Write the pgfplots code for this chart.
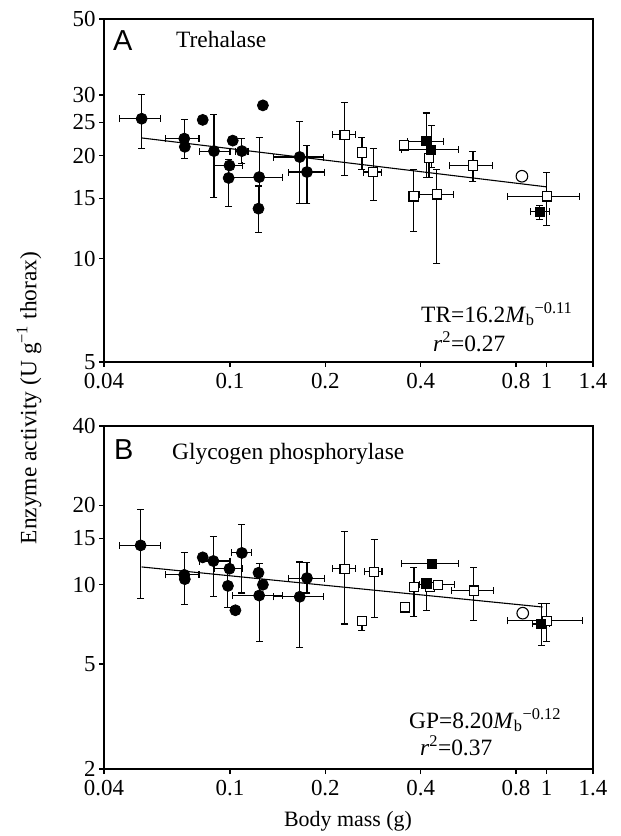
\documentclass[border=0pt]{standalone}
\usepackage{pgfplots}
\usepackage{pgfplotstable}
\pgfplotsset{compat=1.18}
\usepackage{fontspec}
\setmainfont{Liberation Serif}
\newfontfamily\panelsans{Liberation Sans}

% x y xlo xhi ylo yhi
\pgfplotstableread{
x y xlo xhi ylo yhi
0.0526 25.6 0.0447 0.0603 20.9 30.2
0.0717 22.4 0.0627 0.0798 19.6 25.4
0.072 21.2 0.072 0.072 21.2 21.2
0.082 25.4 0.082 0.082 25.4 25.4
0.089 20.6 0.080 0.100 15.1 26.3
0.102 22.1 0.102 0.102 22.1 22.1
0.109 20.6 0.104 0.114 19.0 22.4
0.0996 18.7 0.0896 0.1094 18.7 18.7
0.099 17.2 0.099 0.099 14.2 19.5
0.1236 17.3 0.1021 0.146 14.0 22.6
0.123 14.0 0.123 0.123 11.9 16.3
0.127 28.0 0.127 0.127 28.0 28.0
0.166 19.8 0.137 0.197 14.5 25.1
0.175 17.9 0.153 0.199 14.5 21.4
}\Acirc
\pgfplotstableread{
x y xlo xhi ylo yhi
0.230 23.0 0.211 0.249 17.5 28.6
0.261 20.4 0.255 0.270 18.2 22.5
0.283 17.9 0.264 0.301 14.8 21.0
0.354 21.4 0.345 0.360 21.4 21.4
0.425 19.7 0.425 0.425 17.3 20.8
0.380 15.2 0.380 0.380 12.0 18.2
0.450 15.4 0.397 0.508 9.7 18.2
0.585 18.7 0.494 0.674 16.8 20.5
1.0 15.2 0.75 1.27 12.5 17.8
}\Aosq
\pgfplotstableread{
x y xlo xhi ylo yhi
0.416 22.0 0.364 0.471 17.3 26.6
0.432 20.8 0.348 0.526 18.5 24.4
0.95 13.7 0.89 1.02 13.0 14.3
}\Afsq
\pgfplotstableread{
x y xlo xhi ylo yhi
0.0522 14.1 0.0447 0.0603 8.9 19.3
0.0717 10.9 0.0627 0.0798 8.4 13.2
0.072 10.5 0.072 0.072 10.5 10.5
0.082 12.7 0.082 0.082 12.7 12.7
0.0886 12.3 0.080 0.100 9.0 15.2
0.0996 11.5 0.0896 0.1094 11.5 11.5
0.0985 9.9 0.0985 0.0985 8.2 11.5
0.109 13.2 0.101 0.117 9.3 16.9
0.104 8.0 0.104 0.104 8.0 8.0
0.123 11.1 0.123 0.123 11.1 11.1
0.127 10.0 0.127 0.127 10.0 10.0
0.1236 9.1 0.102 0.146 6.1 12.0
0.166 9.0 0.137 0.197 5.8 12.2
0.175 10.6 0.153 0.199 9.3 12.1
}\Bcirc
\pgfplotstableread{
x y xlo xhi ylo yhi
0.230 11.5 0.211 0.249 7.1 15.9
0.261 7.3 0.261 0.261 6.7 7.6
0.285 11.2 0.265 0.302 7.5 14.8
0.356 8.2 0.356 0.356 8.2 8.2
0.381 9.8 0.381 0.381 7.6 11.6
0.429 9.8 0.429 0.429 9.8 9.8
0.453 10.0 0.397 0.510 10.0 10.0
0.588 9.5 0.499 0.680 7.3 11.6
1.0 7.3 0.75 1.30 6.1 8.5
}\Bosq
\pgfplotstableread{
x y xlo xhi ylo yhi
0.435 12.0 0.349 0.526 12.0 12.0
0.417 10.1 0.417 0.417 8.0 10.1
0.96 7.1 0.90 1.02 5.9 8.5
}\Bfsq

\pgfplotsset{
  panel/.style={
    scale only axis, width=489bp, height=343bp,
    xmin=0.04, xmax=1.4,
    xtick={0.04,0.1,0.2,0.4,0.8,1,1.4},
    xticklabels={0.04,0.1,0.2,0.4,0.8,1,1.4},
    xminorticks=false, yminorticks=false,
    tick align=outside, xtick pos=left, ytick pos=left,
    major tick length=5bp,
    axis line style={line width=1.2bp},
    tick style={line width=1.2bp, black},
    ticklabel style={font=\fontsize{23}{23}\selectfont},
    xticklabel style={yshift=-2.5bp},
  },
  eb/.style={
    error bars/x dir=both, error bars/y dir=both,
    error bars/x explicit, error bars/y explicit,
    error bars/error bar style={line width=1.1bp, black},
    error bars/error mark options={rotate=90, line width=1.1bp, mark size=3.5bp, black},
  },
  fc/.style={only marks, mark=*, mark size=5.5bp, mark options={fill=black, draw=black, line width=0.8bp}},
  os/.style={only marks, mark=square*, mark size=4.6bp, mark options={fill=white, draw=black, line width=1.1bp}},
  fs/.style={only marks, mark=square*, mark size=4.6bp, mark options={fill=black, draw=black, line width=1.1bp}},
  oc/.style={only marks, mark=o, mark size=5.8bp, mark options={draw=black, line width=1.1bp}},
}

\begin{document}
\begin{tikzpicture}
\begin{loglogaxis}[panel, at={(104bp,-362bp)}, anchor=south west,
  ymin=5, ymax=50,
  ytick={5,10,15,20,25,30,50}, yticklabels={5,10,15,20,25,30,50}]
  \addplot[black, line width=1.1bp] coordinates {(0.0526,22.5) (1.0,16.2)};
  \addplot[os, eb] table[x=x, y=y,
    x error plus expr=\thisrow{xhi}-\thisrow{x},
    x error minus expr=\thisrow{x}-\thisrow{xlo},
    y error plus expr=\thisrow{yhi}-\thisrow{y},
    y error minus expr=\thisrow{y}-\thisrow{ylo}] {\Aosq};
  \addplot[fs, eb] table[x=x, y=y,
    x error plus expr=\thisrow{xhi}-\thisrow{x},
    x error minus expr=\thisrow{x}-\thisrow{xlo},
    y error plus expr=\thisrow{yhi}-\thisrow{y},
    y error minus expr=\thisrow{y}-\thisrow{ylo}] {\Afsq};
  \addplot[fc, eb] table[x=x, y=y,
    x error plus expr=\thisrow{xhi}-\thisrow{x},
    x error minus expr=\thisrow{x}-\thisrow{xlo},
    y error plus expr=\thisrow{yhi}-\thisrow{y},
    y error minus expr=\thisrow{y}-\thisrow{ylo}] {\Acirc};
  \addplot[oc] coordinates {(0.835,17.4)};
\end{loglogaxis}
\begin{loglogaxis}[panel, at={(104bp,-769bp)}, anchor=south west,
  ymin=2, ymax=40,
  ytick={2,5,10,15,20,40}, yticklabels={2,5,10,15,20,40}]
  \addplot[black, line width=1.1bp] coordinates {(0.0526,11.68) (0.97,8.23)};
  \addplot[os, eb] table[x=x, y=y,
    x error plus expr=\thisrow{xhi}-\thisrow{x},
    x error minus expr=\thisrow{x}-\thisrow{xlo},
    y error plus expr=\thisrow{yhi}-\thisrow{y},
    y error minus expr=\thisrow{y}-\thisrow{ylo}] {\Bosq};
  \addplot[fs, eb] table[x=x, y=y,
    x error plus expr=\thisrow{xhi}-\thisrow{x},
    x error minus expr=\thisrow{x}-\thisrow{xlo},
    y error plus expr=\thisrow{yhi}-\thisrow{y},
    y error minus expr=\thisrow{y}-\thisrow{ylo}] {\Bfsq};
  \addplot[fc, eb] table[x=x, y=y,
    x error plus expr=\thisrow{xhi}-\thisrow{x},
    x error minus expr=\thisrow{x}-\thisrow{xlo},
    y error plus expr=\thisrow{yhi}-\thisrow{y},
    y error minus expr=\thisrow{y}-\thisrow{ylo}] {\Bcirc};
  \addplot[oc] coordinates {(0.84,7.8)};
\end{loglogaxis}

\node[anchor=base west, inner sep=0pt, font=\panelsans\fontsize{29}{29}\selectfont] at (113bp,-50bp) {A};
\node[anchor=base west, inner sep=0pt, font=\fontsize{23.5}{23.5}\selectfont] at (176bp,-47bp) {Trehalase};
\node[anchor=base west, inner sep=0pt, font=\panelsans\fontsize{29}{29}\selectfont] at (114bp,-459bp) {B};
\node[anchor=base west, inner sep=0pt, font=\fontsize{23.5}{23.5}\selectfont] at (172bp,-459bp) {Glycogen phosphorylase};

\node[anchor=base west, inner sep=0pt, font=\fontsize{23.5}{23.5}\selectfont] at (421bp,-322bp) {TR=16.2\textit{M}\textsubscript{b}\textsuperscript{−0.11}};
\node[anchor=base west, inner sep=0pt, font=\fontsize{23.5}{23.5}\selectfont] at (433bp,-351bp) {\textit{r}\textsuperscript{2}=0.27};
\node[anchor=base west, inner sep=0pt, font=\fontsize{23.5}{23.5}\selectfont] at (409bp,-728bp) {GP=8.20\textit{M}\textsubscript{b}\textsuperscript{−0.12}};
\node[anchor=base west, inner sep=0pt, font=\fontsize{23.5}{23.5}\selectfont] at (420bp,-755bp) {\textit{r}\textsuperscript{2}=0.37};

\node[rotate=90, inner sep=0pt, font=\fontsize{23.5}{23.5}\selectfont] at (29bp,-398bp) {Enzyme activity (U g\textsuperscript{−1} thorax)};
\node[anchor=base, inner sep=0pt, font=\fontsize{22}{22}\selectfont] at (348bp,-826bp) {Body mass (g)};

\pgfresetboundingbox
\path (0,0) rectangle (621bp,-836bp);
\end{tikzpicture}
\end{document}
